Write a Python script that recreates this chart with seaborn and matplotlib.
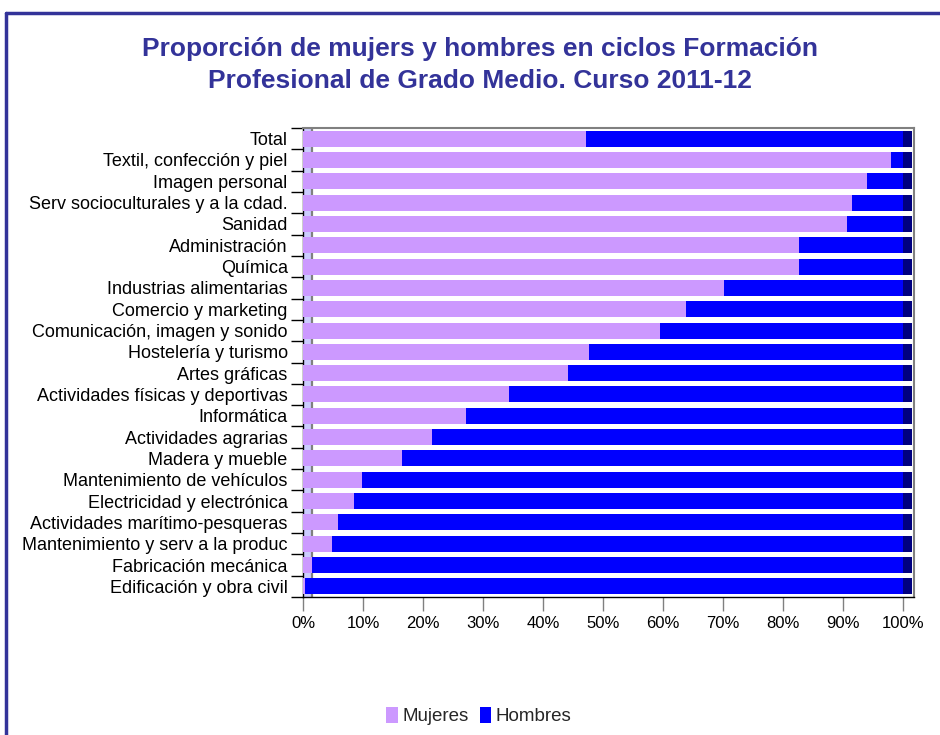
import matplotlib
matplotlib.use("Agg")
import matplotlib.pyplot as plt
import seaborn as sns
import pandas as pd
from matplotlib.lines import Line2D
from matplotlib.patches import Patch

categories = [
    "Total",
    "Textil, confección y piel",
    "Imagen personal",
    "Serv socioculturales y a la cdad.",
    "Sanidad",
    "Administración",
    "Química",
    "Industrias alimentarias",
    "Comercio y marketing",
    "Comunicación, imagen y sonido",
    "Hostelería y turismo",
    "Artes gráficas",
    "Actividades físicas y deportivas",
    "Informática",
    "Actividades agrarias",
    "Madera y mueble",
    "Mantenimiento de vehículos",
    "Electricidad y electrónica",
    "Actividades marítimo-pesqueras",
    "Mantenimiento y serv a la produc",
    "Fabricación mecánica",
    "Edificación y obra civil",
]
mujeres = [47.1, 98.0, 94.0, 91.4, 90.7, 82.7, 82.6, 70.1, 63.8, 59.4, 47.7,
           44.1, 34.4, 27.1, 21.5, 16.5, 9.8, 8.5, 5.8, 4.9, 1.5, 0.3]
hombres = [52.9, 2.0, 6.0, 8.6, 9.3, 17.3, 17.4, 29.9, 36.2, 40.6, 52.3,
           55.9, 65.6, 72.9, 78.5, 83.5, 90.2, 91.5, 94.2, 95.1, 98.5, 99.7]
xticks = [0, 10, 20, 30, 40, 50, 60, 70, 80, 90, 100]
xticklabels = [f"{t}%" for t in xticks]

COL_M = "#cc99ff"
COL_H = "#0000ff"
COL_CAP = "#000080"
COL_TITLE = "#333399"
DEPTH = 1.4

df = pd.DataFrame({"cat": categories, "m": mujeres, "h": hombres})
df["total"] = df["m"] + df["h"]
df["cap"] = df["total"] + DEPTH

sns.set_theme(style="white")
plt.rcParams["font.family"] = ["Liberation Sans", "DejaVu Sans"]

fig = plt.figure(figsize=(9.4, 7.35), dpi=100)
ax = fig.add_axes([303 / 940, 1 - 597 / 735, 611 / 940, 469 / 735])

# 3D wall
ax.axvspan(0, 1.5, color="#ccccff", zorder=0, lw=0)
ax.axvline(1.5, color="#808080", lw=1.6, zorder=0.5)

sns.barplot(data=df, x="cap", y="cat", color=COL_CAP, width=0.75,
            saturation=1, ax=ax, zorder=2)
sns.barplot(data=df, x="total", y="cat", color=COL_H, width=0.75,
            saturation=1, ax=ax, zorder=3)
sns.barplot(data=df, x="m", y="cat", color=COL_M, width=0.75,
            saturation=1, ax=ax, zorder=4)
for p in ax.patches:
    p.set_linewidth(0)

ax.set_xlim(0, 101.8)
ax.set_ylim(len(categories) - 0.5, -0.5)
ax.set_xlabel("")
ax.set_ylabel("")
ax.set_xticks(xticks)
ax.set_xticklabels(xticklabels, fontsize=12, color="black")
ax.set_yticks(range(len(categories)))
ax.set_yticklabels(categories, fontsize=13, color="black")
ax.set_yticks([i - 0.5 for i in range(len(categories) + 1)], minor=True)
ax.tick_params(axis="y", which="major", length=0, pad=11)
ax.tick_params(axis="y", which="minor", left=True, length=9, width=1, color="black")
ax.tick_params(axis="x", which="major", bottom=True, length=10, width=1,
               color="#808080", pad=4)

for s in ["top", "right"]:
    ax.spines[s].set_color("#808080")
    ax.spines[s].set_linewidth(1.5)
ax.spines["left"].set_color("black")
ax.spines["left"].set_linewidth(1)
ax.spines["bottom"].set_color("black")
ax.spines["bottom"].set_linewidth(1)

fig.text(480 / 940, 1 - 65 / 735,
         "Proporción de mujers y hombres en ciclos Formación\n"
         "Profesional de Grado Medio. Curso 2011-12",
         ha="center", va="center", fontsize=19, fontweight="bold",
         color=COL_TITLE, linespacing=1.42)

# outer frame
fig.add_artist(Line2D([6 / 940, 6 / 940], [0, 1 - 13 / 735],
                      transform=fig.transFigure, color=COL_TITLE, lw=2.5))
fig.add_artist(Line2D([6 / 940, 1], [1 - 13 / 735, 1 - 13 / 735],
                      transform=fig.transFigure, color=COL_TITLE, lw=2.5))

handles = [Patch(facecolor=COL_M, edgecolor="none", label="Mujeres"),
           Patch(facecolor=COL_H, edgecolor="none", label="Hombres")]
fig.legend(handles=handles, loc="center", bbox_to_anchor=(479 / 940, 1 - 716 / 735),
           ncol=2, frameon=False, fontsize=13.5, handlelength=0.6, handleheight=1.0,
           handletextpad=0.25, columnspacing=0.6)

fig.savefig("out.png", dpi=100)
